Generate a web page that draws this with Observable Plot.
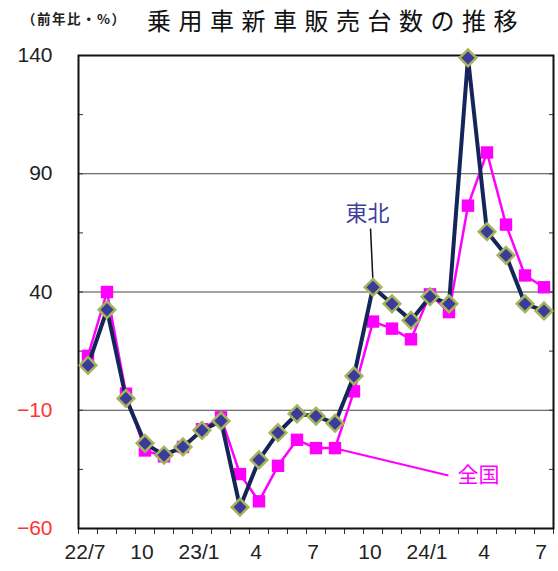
<!DOCTYPE html>
<html><head><meta charset="utf-8">
<script src="https://cdn.jsdelivr.net/npm/d3@7"></script>
<script src="https://cdn.jsdelivr.net/npm/@observablehq/plot@0.6"></script>
<style>
body{margin:0;background:#fff;}
#wrap{position:relative;width:558px;}
#head{position:relative;height:38px;}
#sub{position:absolute;left:22px;top:8px;font:bold 13.5px "Noto Sans CJK JP";color:#222;white-space:nowrap;letter-spacing:1.5px;}
#title{position:absolute;left:147px;top:2px;font:24px "Noto Sans CJK JP";letter-spacing:7.5px;color:#111;white-space:nowrap;}
svg{overflow:visible;}
.neglab, .neglab text{fill:#ff3333 !important;}
</style></head>
<body><div id="wrap"><div id="head"><div id="sub">（前年比・%）</div><div id="title">乗用車新車販売台数の推移</div></div><div id="chart"></div></div>
<script>
const months = ["22/7","22/8","22/9","22/10","22/11","22/12","23/1","23/2","23/3","23/4","23/5","23/6","23/7","23/8","23/9","23/10","23/11","23/12","24/1","24/2","24/3","24/4","24/5","24/6","24/7"];
const tohoku = [9, 32.5, -5, -24, -29, -25.5, -18.5, -14.5, -51, -31, -19.5, -11.5, -12.5, -15.5, 4.5, 42, 35, 28, 38, 35, 139, 65.5, 55.5, 35, 32];
const zenkoku = [13, 40, -3, -27, -29.5, -25.5, -18, -13, -37, -48.5, -33.5, -22.5, -26, -26, -2, 27.5, 24.5, 20, 39, 31.5, 76.5, 99, 68.5, 47, 42];
const xTickIndex = [0, 3, 6, 9, 12, 15, 18, 21, 24];
const xTickLabels = ["22/7", "10", "23/1", "4", "7", "10", "24/1", "4", "7"];
const yLabelsBlack = [140, 90, 40];
const yLabelsRed = [-10, -60];
const yGrid = [90, 40, -10];
const yMinorTicks = [140, 115, 90, 65, 40, 15, -10, -35, -60];
const seriesNames = ["東北", "全国"];

const data = months.map((m, i) => ({i, m, tohoku: tohoku[i], zenkoku: zenkoku[i]}));
const bandEdges = months.map((m, i) => i - 0.5).concat([months.length - 0.5]);
const fmt = d => String(d).replace("-", "\u2212");

const annTohoku = [{x: 14.71, y: 73, t: seriesNames[0]}];
const leadTohoku = [{x1: 14.87, y1: 66.8, x2: 15.0, y2: 44}];
const annZenkoku = [{x: 19.45, y: -37.6, t: seriesNames[1]}];
const leadZenkoku = [{x1: 13.2, y1: -26.5, x2: 18.97, y2: -37.6}];

const chart = Plot.plot({
  width: 558, height: 533,
  marginTop: 17, marginBottom: 43, marginLeft: 78, marginRight: 5,
  x: {type: "linear", domain: [-0.5, 24.5], axis: null},
  y: {domain: [-60, 140], axis: null},
  style: {fontFamily: "Liberation Sans", fontSize: "21px", background: "white", overflow: "visible"},
  marks: [
    Plot.ruleY(yGrid, {stroke: "#444", strokeWidth: 1.2}),
    Plot.axisY({anchor: "left", ticks: yMinorTicks, tickSize: -5, tickFormat: () => "", stroke: "#333"}),
    Plot.axisY({anchor: "right", ticks: yMinorTicks, tickSize: -5, tickFormat: () => "", stroke: "#333"}),
    Plot.text(yLabelsBlack, {y: d => d, text: fmt, frameAnchor: "left", textAnchor: "end", dx: -26, fill: "#222", fontSize: 21}),
    Plot.text(yLabelsRed, {y: d => d, text: fmt, frameAnchor: "left", textAnchor: "end", dx: -26, fill: "#ff3333", fontSize: 21, className: "neglab"}),
    Plot.axisX({anchor: "bottom", ticks: bandEdges, tickSize: 6, tickFormat: () => "", stroke: "#333"}),
    Plot.axisX({anchor: "bottom", ticks: xTickIndex, tickSize: 0, tickPadding: 16, dx: -3, color: "#222", fontSize: 21,
      tickFormat: d => xTickLabels[xTickIndex.indexOf(d)]}),
    Plot.frame({stroke: "#111", strokeWidth: 2}),
    Plot.link(leadZenkoku, {x1: "x1", y1: "y1", x2: "x2", y2: "y2", stroke: "#ff00ff", strokeWidth: 2}),
    Plot.link(leadTohoku, {x1: "x1", y1: "y1", x2: "x2", y2: "y2", stroke: "#111", strokeWidth: 1.5}),
    Plot.line(data, {x: "i", y: "zenkoku", stroke: "#ff00ff", strokeWidth: 2.5}),
    Plot.dot(data, {x: "i", y: "zenkoku", symbol: "square", r: 7, fill: "#ff00ff"}),
    Plot.line(data, {x: "i", y: "tohoku", stroke: "#15255a", strokeWidth: 4}),
    Plot.dot(data, {x: "i", y: "tohoku", symbol: "diamond2", r: 7.5, fill: "#3b3b9b", stroke: "#a6b45a", strokeWidth: 2.5}),
    Plot.text(annTohoku, {x: "x", y: "y", text: "t", fill: "#40409a", fontSize: 22, fontFamily: "Noto Sans CJK JP"}),
    Plot.text(annZenkoku, {x: "x", y: "y", text: "t", fill: "#ff00ff", fontSize: 21, textAnchor: "start", fontFamily: "Noto Sans CJK JP"})
  ]
});
d3.select(chart).selectAll(".neglab text").attr("fill", "#ff3333");
document.getElementById("chart").appendChild(chart);
</script>
</body></html>
